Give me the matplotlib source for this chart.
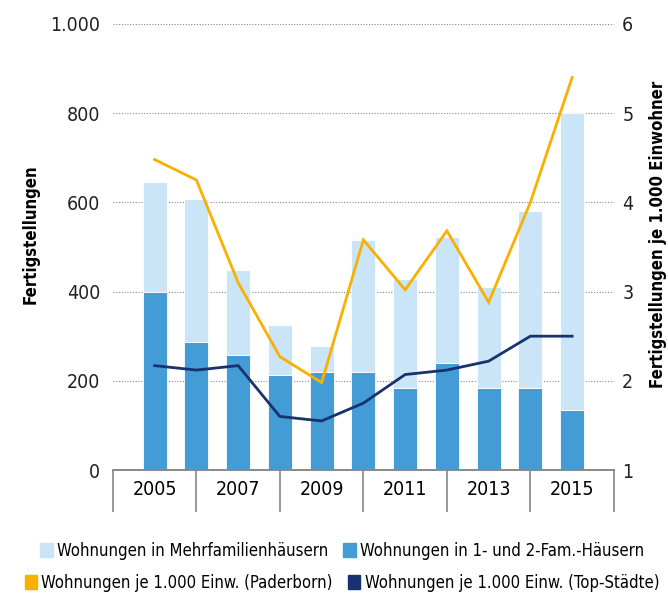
import matplotlib
matplotlib.use("Agg")
from matplotlib import pyplot as plt
from matplotlib import font_manager
from matplotlib.patches import Patch
import numpy as np

# look for a narrow sans, the reference uses a condensed face
fonts = font_manager.fontManager.ttflist
narrow = [f.name for f in fonts if "Narrow" in f.name or "Condensed" in f.name
          or f.stretch in ("condensed", "semi-condensed", 75, 87)]
if "Liberation Sans Narrow" in narrow:
    plt.rcParams["font.family"] = ["Liberation Sans Narrow", "DejaVu Sans"]
    SCALE = 1.0
elif narrow:
    plt.rcParams["font.family"] = [narrow[0], "DejaVu Sans"]
    plt.rcParams["font.stretch"] = "condensed"
    SCALE = 1.0
else:
    plt.rcParams["font.family"] = ["Liberation Sans", "DejaVu Sans"]
    SCALE = 0.86

years = [2005, 2006, 2007, 2008, 2009, 2010, 2011, 2012, 2013, 2014, 2015]
year_labels = ["2005", "2007", "2009", "2011", "2013", "2015"]
# Fertigstellungen
efh = [400, 287, 258, 212, 220, 220, 183, 240, 183, 183, 135]
mfh = [245, 321, 190, 113, 58, 295, 245, 283, 227, 397, 665]
# je 1.000 Einwohner
paderborn = [4.48, 4.25, 3.10, 2.27, 1.98, 3.58, 3.02, 3.68, 2.88, 4.00, 5.40]
top_staedte = [2.17, 2.12, 2.17, 1.60, 1.55, 1.75, 2.07, 2.12, 2.22, 2.50, 2.50]

C_MFH = "#c9e5f7"
C_EFH = "#439cd6"
C_PB = "#f9b000"
C_TOP = "#17326e"

fig = plt.figure(figsize=(6.68, 5.97), dpi=100)
ax = fig.add_axes([0.169, 0.2127, 0.75, 0.7473])
ax2 = ax.twinx()

x = np.arange(len(years))
ax.bar(x, efh, width=0.58, color=C_EFH, edgecolor="white", linewidth=0.6, zorder=2)
ax.bar(x, mfh, bottom=efh, width=0.58, color=C_MFH, edgecolor="white", linewidth=0.6, zorder=2)

ax2.plot(x, paderborn, color=C_PB, lw=2, solid_joinstyle="miter")
ax2.plot(x, top_staedte, color=C_TOP, lw=2, solid_joinstyle="miter")

ax.set_xlim(-1, 11)
ax.set_ylim(0, 1000)
ax2.set_ylim(1, 6)

ax.set_yticks([0, 200, 400, 600, 800, 1000])
ax.set_yticklabels(["0", "200", "400", "600", "800", "1.000"])
ax2.set_yticks([1, 2, 3, 4, 5, 6])

ax.yaxis.grid(True, linestyle=(0, (1, 1.5)), color="#888888", lw=0.8, zorder=0)
ax.set_axisbelow(True)

# year groups: separators below the axis, labels between them
ax.set_xticks([-1, 1, 3, 5, 7, 9, 11])
ax.set_xticklabels([])
ax.tick_params(axis="x", length=30, width=1.2, color="#888888", direction="out")
ax.set_xticks(np.arange(0, 11, 2), minor=True)
ax.set_xticklabels(year_labels, minor=True)
ax.tick_params(axis="x", which="minor", length=0, pad=7, labelsize=14 * SCALE)

for a in (ax, ax2):
    for s in ("top", "left", "right"):
        a.spines[s].set_visible(False)
    a.spines["bottom"].set_color("#888888")
    a.spines["bottom"].set_linewidth(1.2)
    a.tick_params(axis="y", length=0, labelsize=14 * SCALE, colors="#222222")

ax.tick_params(axis="y", pad=9)
ax2.tick_params(axis="y", pad=6)

ax.set_ylabel("Fertigstellungen", fontsize=12 * SCALE, fontweight="bold")
ax.yaxis.set_label_coords(-0.147, 0.529)
ax2.set_ylabel("Fertigstellungen je 1.000 Einwohner", fontsize=12 * SCALE, fontweight="bold")
ax2.yaxis.set_label_coords(1.07, 0.529)

row1 = [Patch(color=C_MFH, label="Wohnungen in Mehrfamilienhäusern"),
        Patch(color=C_EFH, label="Wohnungen in 1- und 2-Fam.-Häusern")]
row2 = [Patch(color=C_PB, label="Wohnungen je 1.000 Einw. (Paderborn)"),
        Patch(color=C_TOP, label="Wohnungen je 1.000 Einw. (Top-Städte)")]
for handles, ypos in ((row1, 1 - 551 / 597), (row2, 1 - 583 / 597)):
    fig.legend(handles=handles, loc="center", bbox_to_anchor=(0.512, ypos), ncol=2,
               frameon=False, fontsize=12 * SCALE, handlelength=0.75, handleheight=0.9,
               handletextpad=0.25, columnspacing=0.9, borderpad=0)

fig.savefig("out.png", dpi=100)
